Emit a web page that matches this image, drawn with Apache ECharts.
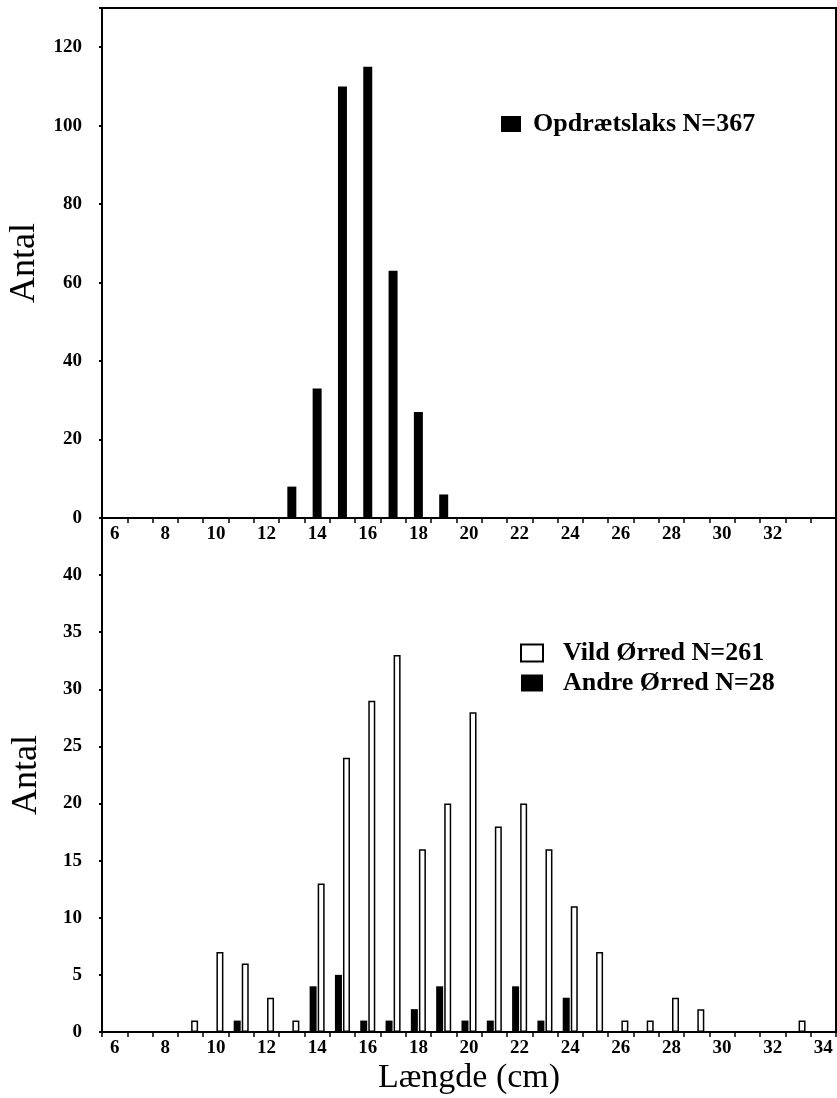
<!DOCTYPE html>
<html>
<head>
<meta charset="utf-8">
<title>Længdefordeling</title>
<script src="https://cdn.jsdelivr.net/npm/echarts@6/dist/echarts.min.js"></script>
<style>
  html, body { margin: 0; padding: 0; background: #fff; }
  #chart { width: 837px; height: 1098px; }
</style>
</head>
<body>
<div id="chart"></div>
<script>
// længde-klasser (cm)
var lengths = ['6', '7', '8', '9', '10', '11', '12', '13', '14', '15', '16', '17', '18', '19', '20',
  '21', '22', '23', '24', '25', '26', '27', '28', '29', '30', '31', '32', '33', '34'];

// øverste panel
var laksName = 'Opdrætslaks N=367';
var laks = [0, 0, 0, 0, 0, 0, 0, 8, 33, 110, 115, 63, 27, 6, 0,
  0, 0, 0, 0, 0, 0, 0, 0, 0, 0, 0, 0, 0, 0];

// nederste panel
var vildName = 'Vild Ørred N=261';
var vild = [0, 0, 0, 1, 7, 6, 3, 1, 13, 24, 29, 33, 16, 20, 28,
  18, 20, 16, 11, 7, 1, 1, 3, 2, 0, 0, 0, 1, 0];
var andreName = 'Andre Ørred N=28';
var andre = [0, 0, 0, 0, 0, 1, 0, 0, 4, 5, 1, 1, 2, 4, 1,
  1, 4, 1, 3, 0, 0, 0, 0, 0, 0, 0, 0, 0, 0];

var serif = "'Liberation Serif', 'DejaVu Serif', serif";
var tickFont = { fontFamily: serif, fontWeight: 'bold', fontSize: 19, color: '#000' };

function xAxisFor(gridIndex, hideLast, name) {
  return {
    type: 'category',
    gridIndex: gridIndex,
    data: lengths,
    name: name || '',
    nameLocation: 'middle',
    nameGap: 29,
    nameTextStyle: { fontFamily: serif, fontSize: 34, color: '#000' },
    axisLine: { lineStyle: { color: '#000', width: 2 } },
    axisTick: { show: true, interval: 0, length: 5, lineStyle: { color: '#000', width: 1.5 } },
    axisLabel: Object.assign({
      margin: 7,
      interval: 0,
      formatter: function (v, i) {
        if (i % 2 !== 0) return '';
        if (hideLast && i === lengths.length - 1) return '';
        return v;
      }
    }, tickFont),
    splitLine: { show: false }
  };
}

function yAxisFor(gridIndex, max, interval, lastLabel) {
  return {
    type: 'value',
    gridIndex: gridIndex,
    min: 0,
    max: max,
    interval: interval,
    name: 'Antal',
    nameLocation: 'middle',
    nameGap: 57,
    nameTextStyle: { fontFamily: serif, fontSize: 36, color: '#000' },
    axisLine: { show: true, lineStyle: { color: '#000', width: 2 } },
    axisTick: { show: true, length: 3, lineStyle: { color: '#000', width: 2 } },
    axisLabel: Object.assign({
      margin: 20,
      formatter: function (v) { return v > lastLabel ? '' : v; }
    }, tickFont),
    splitLine: { show: false }
  };
}

var chart = echarts.init(document.getElementById('chart'));
chart.setOption({
  animation: false,
  backgroundColor: '#fff',
  grid: [
    { left: 102, right: 1, top: 8, height: 510, containLabel: false, outerBoundsMode: 'none',
      show: true, borderColor: '#000', borderWidth: 2 },
    { left: 102, right: 1, top: 518, height: 514, containLabel: false, outerBoundsMode: 'none',
      show: true, borderColor: '#000', borderWidth: 2 }
  ],
  legend: [
    {
      data: [laksName],
      left: 496, top: 106,
      itemWidth: 20, itemHeight: 16,
      icon: 'rect',
      textStyle: { fontFamily: serif, fontWeight: 'bold', fontSize: 26, color: '#000', padding: [0, 0, 0, 7] }
    },
    {
      data: [vildName, andreName],
      orient: 'vertical',
      left: 515, top: 635,
      itemWidth: 22, itemHeight: 17, itemGap: 4,
      icon: 'rect',
      textStyle: { fontFamily: serif, fontWeight: 'bold', fontSize: 26, color: '#000', padding: [0, 0, 0, 15] }
    }
  ],
  xAxis: [xAxisFor(0, true), xAxisFor(1, false, 'Længde (cm)')],
  yAxis: [yAxisFor(0, 130, 20, 120), yAxisFor(1, 45, 5, 40)],
  series: [
    {
      name: laksName, type: 'bar', xAxisIndex: 0, yAxisIndex: 0,
      data: laks, barWidth: 9,
      itemStyle: { color: '#000' }
    },
    {
      name: andreName, type: 'bar', xAxisIndex: 1, yAxisIndex: 1,
      data: andre, barWidth: 7, barGap: '15%',
      itemStyle: { color: '#000' }
    },
    {
      name: vildName, type: 'bar', xAxisIndex: 1, yAxisIndex: 1,
      data: vild, barWidth: 7,
      itemStyle: { color: '#fff', borderColor: '#000', borderWidth: 1.5 }
    }
  ]
});
</script>
</body>
</html>
